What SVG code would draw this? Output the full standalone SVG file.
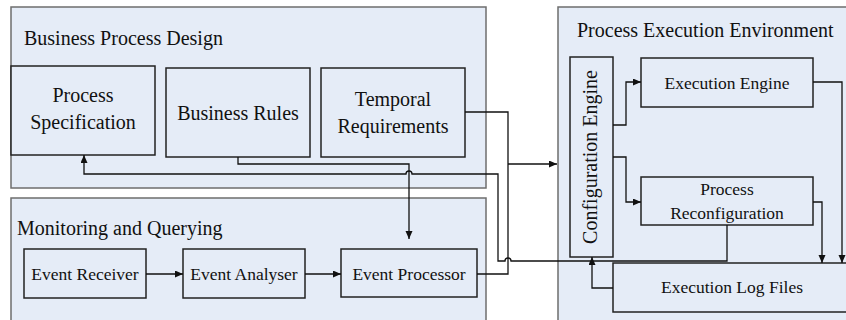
<svg xmlns="http://www.w3.org/2000/svg" width="846" height="320" viewBox="0 0 846 320">
<style>
.grp{fill:#E5ECF7;stroke:#6E6E6E;stroke-width:1.5}
.node{fill:#E5ECF7;stroke:#222;stroke-width:1.5}
.t{font-family:"Liberation Serif","Times New Roman",serif;font-size:20px;fill:#111}
.s{font-family:"Liberation Serif","Times New Roman",serif;font-size:17.5px;fill:#111}
.c{text-anchor:middle}
.ln{fill:none;stroke:#111;stroke-width:1.3}
</style>
<defs>
<marker id="ah" markerUnits="userSpaceOnUse" markerWidth="9" markerHeight="8" refX="8" refY="3.5" orient="auto">
<path d="M0,0 L8,3.5 L0,7 z" fill="#111"/>
</marker>
</defs>
<rect width="846" height="320" fill="#fff"/>
<g id="g-bpd">
<rect class="grp" x="11" y="7" width="475" height="181"/>
<text class="t" x="24" y="45">Business Process Design</text>
</g>
<g id="g-mq">
<rect class="grp" x="11" y="198" width="475" height="130"/>
<text class="t" x="17" y="235">Monitoring and Querying</text>
</g>
<g id="g-pee">
<rect class="grp" x="558" y="7" width="300" height="325"/>
<text class="t" x="577" y="37">Process Execution Environment</text>
</g>
<g id="n-ps">
<rect class="node" x="11" y="66" width="144" height="89"/>
<text class="t c" x="83" y="102">Process</text>
<text class="t c" x="83" y="129">Specification</text>
</g>
<g id="n-br">
<rect class="node" x="166" y="68" width="144" height="89"/>
<text class="t c" x="238" y="120">Business Rules</text>
</g>
<g id="n-tr">
<rect class="node" x="321" y="68" width="144" height="89"/>
<text class="t c" x="393" y="106">Temporal</text>
<text class="t c" x="393" y="133">Requirements</text>
</g>
<g id="n-er">
<rect class="node" x="24" y="249" width="122" height="49"/>
<text class="s c" x="85" y="280">Event Receiver</text>
</g>
<g id="n-ea">
<rect class="node" x="183" y="249" width="122" height="49"/>
<text class="s c" x="244" y="280">Event Analyser</text>
</g>
<g id="n-ep">
<rect class="node" x="341" y="249" width="136" height="48"/>
<text class="s c" x="409" y="280">Event Processor</text>
</g>
<g id="n-ce">
<rect class="node" x="570" y="57" width="43" height="200"/>
<text class="t c" transform="translate(597,157) rotate(-90)">Configuration Engine</text>
</g>
<g id="n-ee">
<rect class="node" x="641" y="58" width="172" height="49"/>
<text class="s c" x="727" y="89">Execution Engine</text>
</g>
<g id="n-pr">
<rect class="node" x="641" y="177" width="172" height="48"/>
<text class="s c" x="727" y="195">Process</text>
<text class="s c" x="727" y="219">Reconfiguration</text>
</g>
<g id="n-elf">
<rect class="node" x="613" y="263" width="250" height="49"/>
<text class="s c" x="732" y="293">Execution Log Files</text>
</g>
<g id="connectors">
<path class="ln" d="M465,112 H508 V274 H477"/>
<path class="ln" d="M508,164 H557" marker-end="url(#ah)"/>
<path class="ln" d="M238,157 V164 H409 V239" marker-end="url(#ah)"/>
<path class="ln" d="M727,225 V261 H511 a3,3 0 0 0 -6,0 H498 V174 H412 a3,3 0 0 0 -6,0 H84 V155" marker-end="url(#ah)"/>
<path class="ln" d="M613,125 H626 V82 H641" marker-end="url(#ah)"/>
<path class="ln" d="M613,157 H626 V202 H641" marker-end="url(#ah)"/>
<path class="ln" d="M813,82 H842 V263" marker-end="url(#ah)"/>
<path class="ln" d="M813,202 H822 V263" marker-end="url(#ah)"/>
<path class="ln" d="M613,288 H592 V257" marker-end="url(#ah)"/>
<path class="ln" d="M146,274 H183" marker-end="url(#ah)"/>
<path class="ln" d="M305,274 H341" marker-end="url(#ah)"/>
</g>
</svg>
